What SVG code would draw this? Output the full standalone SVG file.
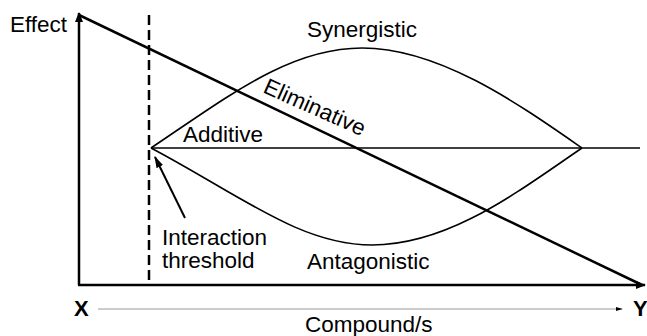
<svg xmlns="http://www.w3.org/2000/svg" width="647" height="336" viewBox="0 0 647 336">
<defs>
<marker id="ah" viewBox="0 0 10 10" refX="9" refY="5" markerWidth="4" markerHeight="4" orient="auto" markerUnits="strokeWidth"><path d="M0,1 L10,5 L0,9 Z" fill="#000"/></marker>
<marker id="ahg" viewBox="0 0 10 10" refX="9" refY="5" markerWidth="6" markerHeight="6" orient="auto" markerUnits="strokeWidth"><path d="M0,2 L10,5 L0,8 Z" fill="#000"/></marker>
<style>
text{font-family:"Liberation Sans",Arial,sans-serif;font-size:22.5px;fill:#000}
.b{font-weight:bold;font-size:22px}
.ax{stroke:#000;stroke-width:2.5;fill:none}
.thin{stroke:#000;stroke-width:1.6;fill:none}
</style>
</defs>
<rect width="647" height="336" fill="#fff"/>
<g id="axes">
<line class="ax" x1="79" y1="285" x2="79" y2="13" marker-end="url(#ah)"/>
<line class="ax" x1="78" y1="285" x2="645" y2="285" marker-end="url(#ah)"/>
<line x1="149" y1="15" x2="149" y2="284" stroke="#000" stroke-width="2.5" stroke-dasharray="10,5"/>
<text x="10" y="32">Effect</text>
</g>
<g id="connectors">
<line id="eliminative-line" class="ax" x1="79" y1="15" x2="640" y2="284"/>
<line id="additive-line" class="thin" x1="151" y1="148" x2="640" y2="148"/>
<path id="synergistic-curve" class="thin" d="M151,148 C230,95 290,48 362,48 C440,48 520,105 582,148"/>
<path id="antagonistic-curve" class="thin" d="M151,148 C240,195 300,245 372,245 C450,245 520,190 582,148"/>
<line id="threshold-arrow" x1="185" y1="218" x2="155" y2="157" stroke="#000" stroke-width="2" marker-end="url(#ahg)"/>
<line id="compound-arrow" x1="98" y1="309" x2="622" y2="309" stroke="#999" stroke-width="1.2" marker-end="url(#ahg)"/>
</g>
<g id="synergistic"><text x="307" y="37">Synergistic</text></g>
<g id="eliminative"><text transform="translate(262,92) rotate(24)">Eliminative</text></g>
<g id="additive"><text x="183" y="142">Additive</text></g>
<g id="antagonistic"><text x="307" y="269">Antagonistic</text></g>
<g id="interaction-threshold"><text x="162" y="245">Interaction</text><text x="162" y="268">threshold</text></g>
<g id="x-label"><text class="b" x="74" y="316">X</text></g>
<g id="y-label"><text class="b" x="633" y="316">Y</text></g>
<g id="compound"><text x="305" y="332">Compound/s</text></g>
</svg>
